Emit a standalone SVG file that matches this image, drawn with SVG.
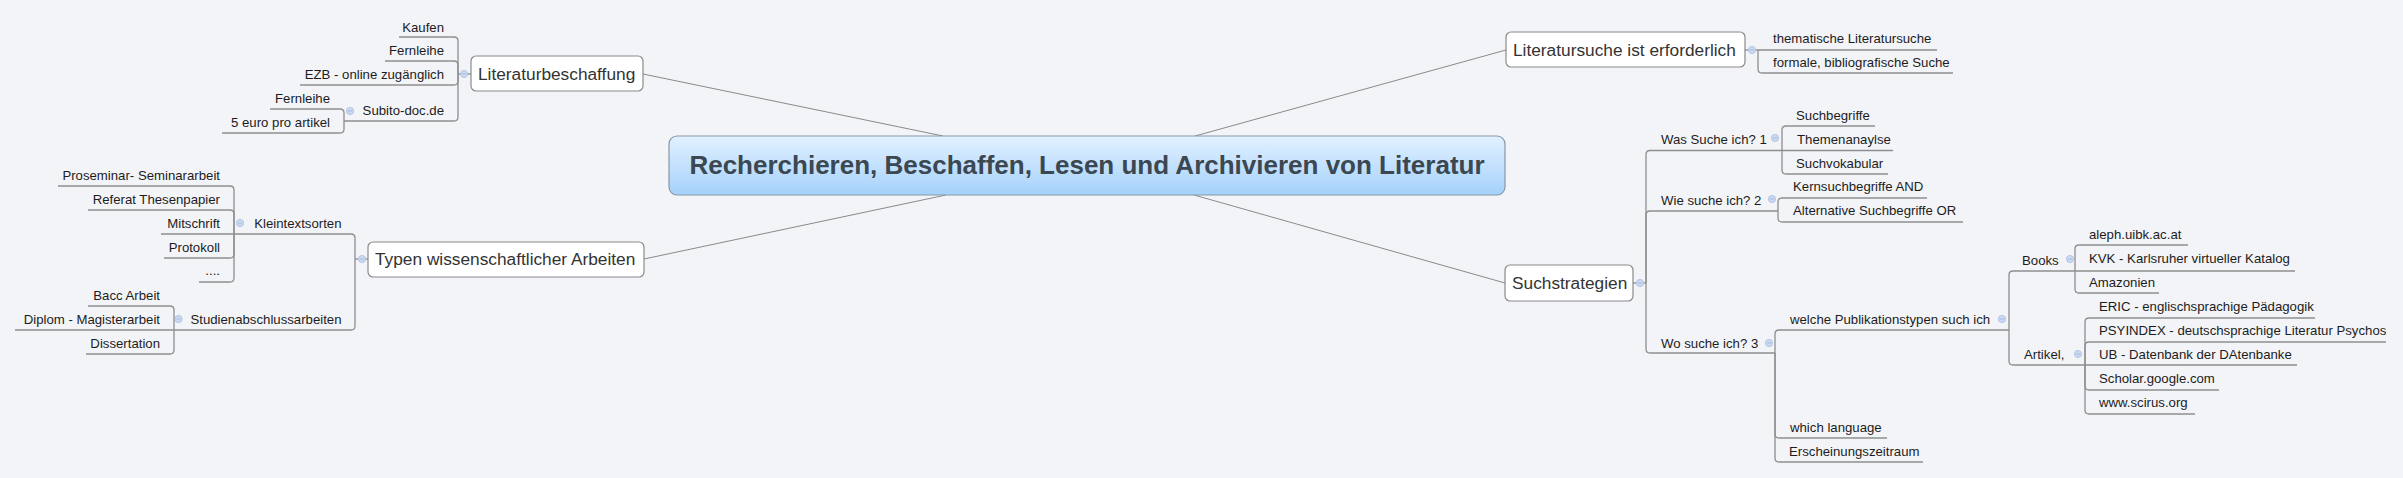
<svg xmlns="http://www.w3.org/2000/svg" width="2403" height="478" viewBox="0 0 2403 478">
<defs>
<linearGradient id="cg" x1="0" y1="0" x2="0" y2="1">
<stop offset="0" stop-color="#e2f1ff"/>
<stop offset="1" stop-color="#a5d1fb"/>
</linearGradient>
<style>
.ln{fill:none;stroke:#8e8e8e;stroke-width:1.3}
.cn{fill:none;stroke:#8a8a8a;stroke-width:1}
.box{fill:#ffffff;stroke:#8a8a8a;stroke-width:1.2}
.t{font-family:"Liberation Sans",Arial,sans-serif;font-size:13.2px;fill:#1c1c1c}
.e{text-anchor:end}
.mt{font-family:"Liberation Sans",Arial,sans-serif;font-size:17.3px;fill:#333333}
.ct{font-family:"Liberation Sans",Arial,sans-serif;font-size:26px;font-weight:bold;fill:#3b4751;text-anchor:middle}
.dot{fill:#ccdaf1;stroke:#a6bde2;stroke-width:0.8}
.dm{stroke:#9fb3d6;stroke-width:0.8}
</style>
<g id="col">
<circle class="dot" cx="0" cy="0" r="3.6"/>
<line class="dm" x1="-2" y1="0" x2="2" y2="0"/>
</g>
</defs>
<rect width="2403" height="478" fill="#f3f4f8"/>

<g id="connectors">
<path class="cn" d="M943,136 L643,74"/>
<path class="cn" d="M1195,136 L1506,50"/>
<path class="cn" d="M946,195 L644,259"/>
<path class="cn" d="M1194,195 L1505,283"/>

<path class="ln" d="M458,74 H471"/>
<path class="ln" d="M458,74 V41 Q458,37 454,37 H399"/>
<path class="ln" d="M458,74 V65 Q458,61 454,61 H385"/>
<path class="ln" d="M458,74 V81 Q458,85 454,85 H300"/>
<path class="ln" d="M458,74 V117 Q458,121 454,121 H344"/>
<path class="ln" d="M344,121 V113 Q344,109 340,109 H270"/>
<path class="ln" d="M344,121 V129 Q344,133 340,133 H222"/>

<path class="ln" d="M355,259 H368"/>
<path class="ln" d="M355,259 V238 Q355,234 351,234 H234"/>
<path class="ln" d="M355,259 V326 Q355,330 351,330 H174"/>
<path class="ln" d="M234,234 V190 Q234,186 230,186 H58"/>
<path class="ln" d="M234,234 V214 Q234,210 230,210 H88"/>
<path class="ln" d="M234,234 H161"/>
<path class="ln" d="M234,234 V254 Q234,258 230,258 H164"/>
<path class="ln" d="M234,234 V278 Q234,282 230,282 H199"/>
<path class="ln" d="M174,330 V310 Q174,306 170,306 H88"/>
<path class="ln" d="M174,330 H15"/>
<path class="ln" d="M174,330 V350 Q174,354 170,354 H86"/>

<path class="ln" d="M1745,50 H1758"/>
<path class="ln" d="M1758,50 H1937"/>
<path class="ln" d="M1758,50 V69 Q1758,73 1762,73 H1953"/>

<path class="ln" d="M1633,283 H1646"/>
<path class="ln" d="M1646,283 V154.5 Q1646,150.5 1650,150.5 H1782"/>
<path class="ln" d="M1646,283 V215 Q1646,211 1650,211 H1778"/>
<path class="ln" d="M1646,283 V349 Q1646,353 1650,353 H1775"/>
<path class="ln" d="M1782,150.5 V130 Q1782,126 1786,126 H1875"/>
<path class="ln" d="M1782,150.5 H1893"/>
<path class="ln" d="M1782,150.5 V170 Q1782,174 1786,174 H1888"/>
<path class="ln" d="M1778,211 V202 Q1778,198 1782,198 H1927"/>
<path class="ln" d="M1778,211 V218 Q1778,222 1782,222 H1963"/>
<path class="ln" d="M1775,353 V334 Q1775,330 1779,330 H2009"/>
<path class="ln" d="M1775,353 V434 Q1775,438 1779,438 H1887"/>
<path class="ln" d="M1775,353 V458 Q1775,462 1779,462 H1923"/>
<path class="ln" d="M2009,330 V275 Q2009,271 2013,271 H2075"/>
<path class="ln" d="M2009,330 V361 Q2009,365 2013,365 H2085"/>
<path class="ln" d="M2075,271 V249 Q2075,245 2079,245 H2188"/>
<path class="ln" d="M2075,271 H2295"/>
<path class="ln" d="M2075,271 V289 Q2075,293 2079,293 H2159"/>
<path class="ln" d="M2085,365 V322 Q2085,318 2089,318 H2315"/>
<path class="ln" d="M2085,365 V346 Q2085,342 2089,342 H2386"/>
<path class="ln" d="M2085,365 H2297"/>
<path class="ln" d="M2085,365 V386 Q2085,390 2089,390 H2219"/>
<path class="ln" d="M2085,365 V410 Q2085,414 2089,414 H2195"/>
</g>

<g id="center">
<rect x="669" y="136" width="836" height="59" rx="8" fill="url(#cg)" stroke="#8797a6" stroke-width="1.2"/>
<text class="ct" x="1087" y="174">Recherchieren, Beschaffen, Lesen und Archivieren von Literatur</text>
</g>

<g id="literaturbeschaffung">
<rect class="box" x="471" y="56" width="172" height="35" rx="5"/>
<text class="mt" x="478" y="79.5">Literaturbeschaffung</text>
<use href="#col" x="464" y="74"/>
</g>
<g id="kaufen"><text class="t e" x="444" y="32">Kaufen</text></g>
<g id="fernleihe1"><text class="t e" x="444" y="55">Fernleihe</text></g>
<g id="ezb"><text class="t e" x="444" y="79">EZB - online zugänglich</text></g>
<g id="subito"><text class="t e" x="444" y="115">Subito-doc.de</text><use href="#col" x="350" y="111"/></g>
<g id="fernleihe2"><text class="t e" x="330" y="103">Fernleihe</text></g>
<g id="euro"><text class="t e" x="330" y="127">5 euro pro artikel</text></g>

<g id="typen">
<rect class="box" x="368" y="242" width="276" height="35" rx="5"/>
<text class="mt" x="375" y="265">Typen wissenschaftlicher Arbeiten</text>
<use href="#col" x="362" y="259"/>
</g>
<g id="kleintextsorten"><text class="t e" x="341.5" y="227.5">Kleintextsorten</text><use href="#col" x="240" y="223"/></g>
<g id="proseminar"><text class="t e" x="220" y="180">Proseminar- Seminararbeit</text></g>
<g id="referat"><text class="t e" x="220" y="204">Referat Thesenpapier</text></g>
<g id="mitschrift"><text class="t e" x="220" y="227.5">Mitschrift</text></g>
<g id="protokoll"><text class="t e" x="220" y="251.5">Protokoll</text></g>
<g id="dots"><text class="t e" x="220" y="275">....</text></g>
<g id="studien"><text class="t e" x="341.5" y="323.5">Studienabschlussarbeiten</text><use href="#col" x="178.5" y="319"/></g>
<g id="bacc"><text class="t e" x="160" y="299.5">Bacc Arbeit</text></g>
<g id="diplom"><text class="t e" x="160" y="323.5">Diplom - Magisterarbeit</text></g>
<g id="dissertation"><text class="t e" x="160" y="347.5">Dissertation</text></g>

<g id="literatursuche">
<rect class="box" x="1506" y="32" width="239" height="35" rx="5"/>
<text class="mt" x="1513" y="56">Literatursuche ist erforderlich</text>
<use href="#col" x="1752" y="50"/>
</g>
<g id="thematische"><text class="t" x="1773" y="43">thematische Literatursuche</text></g>
<g id="formale"><text class="t" x="1773" y="66.5">formale, bibliografische Suche</text></g>

<g id="suchstrategien">
<rect class="box" x="1505" y="265" width="128" height="36" rx="5"/>
<text class="mt" x="1512" y="289">Suchstrategien</text>
<use href="#col" x="1640" y="283"/>
</g>
<g id="was"><text class="t" x="1661" y="144">Was Suche ich? 1</text><use href="#col" x="1775" y="138"/></g>
<g id="suchbegriffe"><text class="t" x="1796" y="119.5">Suchbegriffe</text></g>
<g id="themenanaylse"><text class="t" x="1797" y="143.5">Themenanaylse</text></g>
<g id="suchvokabular"><text class="t" x="1796" y="167.5">Suchvokabular</text></g>
<g id="wie"><text class="t" x="1661" y="204.5">Wie suche ich? 2</text><use href="#col" x="1772" y="199"/></g>
<g id="kern"><text class="t" x="1793" y="191">Kernsuchbegriffe AND</text></g>
<g id="alternative"><text class="t" x="1793" y="215">Alternative Suchbegriffe OR</text></g>
<g id="wo"><text class="t" x="1661" y="347.5">Wo suche ich? 3</text><use href="#col" x="1769" y="343"/></g>
<g id="welche"><text class="t" x="1790" y="323.5">welche Publikationstypen such ich</text><use href="#col" x="2002" y="319"/></g>
<g id="language"><text class="t" x="1790" y="431.5">which language</text></g>
<g id="zeitraum"><text class="t" x="1789" y="455.5">Erscheinungszeitraum</text></g>
<g id="books"><text class="t" x="2022" y="264.5">Books</text><use href="#col" x="2070" y="259"/></g>
<g id="aleph"><text class="t" x="2089" y="238.5">aleph.uibk.ac.at</text></g>
<g id="kvk"><text class="t" x="2089" y="263">KVK - Karlsruher virtueller Katalog</text></g>
<g id="amazonien"><text class="t" x="2089" y="287">Amazonien</text></g>
<g id="artikel"><text class="t" x="2024" y="358.5">Artikel,</text><use href="#col" x="2078" y="354"/></g>
<g id="eric"><text class="t" x="2099" y="311">ERIC - englischsprachige Pädagogik</text></g>
<g id="psyindex"><text class="t" x="2099" y="335">PSYINDEX - deutschsprachige Literatur Psychos</text></g>
<g id="ub"><text class="t" x="2099" y="359">UB - Datenbank der DAtenbanke</text></g>
<g id="scholar"><text class="t" x="2099" y="383">Scholar.google.com</text></g>
<g id="scirus"><text class="t" x="2099" y="407">www.scirus.org</text></g>
</svg>
